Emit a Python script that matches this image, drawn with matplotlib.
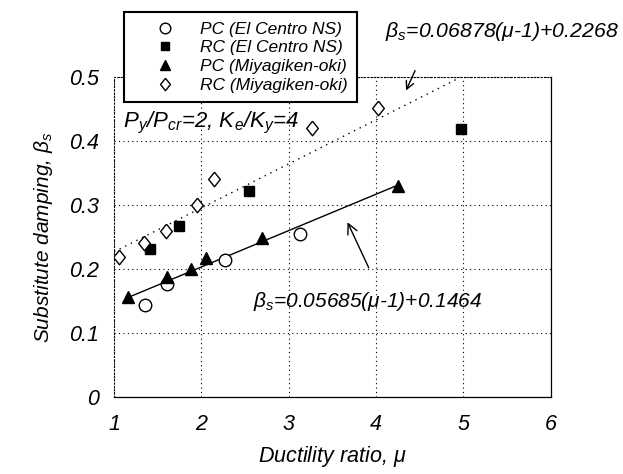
import matplotlib
matplotlib.use("Agg")
import matplotlib.pyplot as plt
import numpy as np

plt.rcParams["font.family"] = ["Liberation Sans", "DejaVu Sans"]
plt.rcParams["font.style"] = "italic"
plt.rcParams["mathtext.fontset"] = "custom"
plt.rcParams["mathtext.rm"] = "Liberation Sans:italic"
plt.rcParams["mathtext.it"] = "Liberation Sans:italic"

# data
pc_elc_mu = [1.36, 1.61, 2.27, 3.13]
pc_elc_beta = [0.144, 0.177, 0.214, 0.255]

rc_elc_mu = [1.41, 1.74, 2.54, 4.97]
rc_elc_beta = [0.231, 0.268, 0.322, 0.419]

pc_miy_mu = [1.16, 1.61, 1.88, 2.05, 2.69, 4.25]
pc_miy_beta = [0.156, 0.187, 0.200, 0.217, 0.248, 0.329]

rc_miy_mu = [1.06, 1.34, 1.59, 1.95, 2.14, 3.27, 4.02]
rc_miy_beta = [0.219, 0.241, 0.260, 0.300, 0.341, 0.420, 0.452]

# fitted lines: beta = a*(mu-1)+b
pc_fit = (0.05685, 0.1464)
rc_fit = (0.06878, 0.2268)
pc_fit_range = [1.15, 4.25]
rc_fit_range = [1.0, 5.0]

# slightly squat open diamond like the original
diamond = [(0, 1), (0.8, 0), (0, -1), (-0.8, 0), (0, 1)]

fig = plt.figure(figsize=(6.23, 4.74), dpi=100)
ax = fig.add_axes([0.183, 0.1624, 0.701, 0.675])

# fit lines
m = np.array(rc_fit_range)
ax.plot(m, rc_fit[0] * (m - 1) + rc_fit[1], color="black", lw=1.0,
        dashes=(1, 3.5), zorder=2)
m = np.array(pc_fit_range)
ax.plot(m, pc_fit[0] * (m - 1) + pc_fit[1], color="black", lw=1.0, zorder=2)

# data points
ax.plot(pc_elc_mu, pc_elc_beta, "o", ms=9, mfc="white", mec="black", mew=1.0,
        ls="none", label="PC (El Centro NS)", zorder=3)
ax.plot(rc_elc_mu, rc_elc_beta, "s", ms=7.5, mfc="black", mec="black",
        ls="none", label="RC (El Centro NS)", zorder=3)
ax.plot(pc_miy_mu, pc_miy_beta, "^", ms=8, mfc="black", mec="black",
        ls="none", label="PC (Miyagiken-oki)", zorder=3)
ax.plot(rc_miy_mu, rc_miy_beta, marker=diamond, ms=10.5, mfc="white",
        mec="black", mew=1.0, ls="none", label="RC (Miyagiken-oki)", zorder=3)

ax.set_xlim(1, 6)
ax.set_ylim(0, 0.5)
ax.set_xticks([1, 2, 3, 4, 5, 6])
ax.set_yticks([0, 0.1, 0.2, 0.3, 0.4, 0.5])
ax.set_xticklabels(["1", "2", "3", "4", "5", "6"])
ax.set_yticklabels(["0", "0.1", "0.2", "0.3", "0.4", "0.5"])
ax.tick_params(axis="both", length=0, labelsize=15.5)
ax.tick_params(axis="x", pad=12)
ax.tick_params(axis="y", pad=11)
ax.grid(True, color="black", lw=0.8, dashes=(1, 3))

for side in ["left", "top"]:
    ax.spines[side].set_linestyle((0, (1, 2)))
    ax.spines[side].set_linewidth(0.8)
for side in ["bottom", "right"]:
    ax.spines[side].set_linewidth(0.9)

ax.set_xlabel(r"Ductility ratio, $\mu$", fontsize=15.5, labelpad=7)
ax.set_ylabel(r"Substitute damping, $\beta_s$", fontsize=15, labelpad=10)

# annotations
ax.text(1.10, 0.422, r"P$_y$/P$_{cr}$=2, K$_e$/K$_y$=4", fontsize=16,
        va="baseline", ha="left")
ax.text(4.10, 0.5625, r"$\beta_s$=0.06878($\mu$-1)+0.2268", fontsize=15.3,
        va="baseline", ha="left", clip_on=False)
ax.text(2.59, 0.141, r"$\beta_s$=0.05685($\mu$-1)+0.1464", fontsize=15,
        va="baseline", ha="left")

ax.annotate("", xy=(3.66, 0.277), xytext=(3.93, 0.198),
            arrowprops=dict(arrowstyle="->", color="black", lw=1.0,
                            mutation_scale=18))
ax.annotate("", xy=(4.33, 0.475), xytext=(4.46, 0.514),
            arrowprops=dict(arrowstyle="->", color="black", lw=1.0,
                            mutation_scale=14), annotation_clip=False)

leg = fig.legend(loc="upper left", bbox_to_anchor=(124 / 623, 1 - 12 / 474),
                 borderaxespad=0, fancybox=False, edgecolor="black",
                 framealpha=1, fontsize=12.5, handlelength=3.6,
                 handletextpad=0.2, borderpad=0.55, labelspacing=0.2,
                 markerscale=0.85)
leg.get_frame().set_linewidth(1.5)
for t in leg.get_texts():
    t.set_style("italic")

fig.savefig("out.png", dpi=100)
